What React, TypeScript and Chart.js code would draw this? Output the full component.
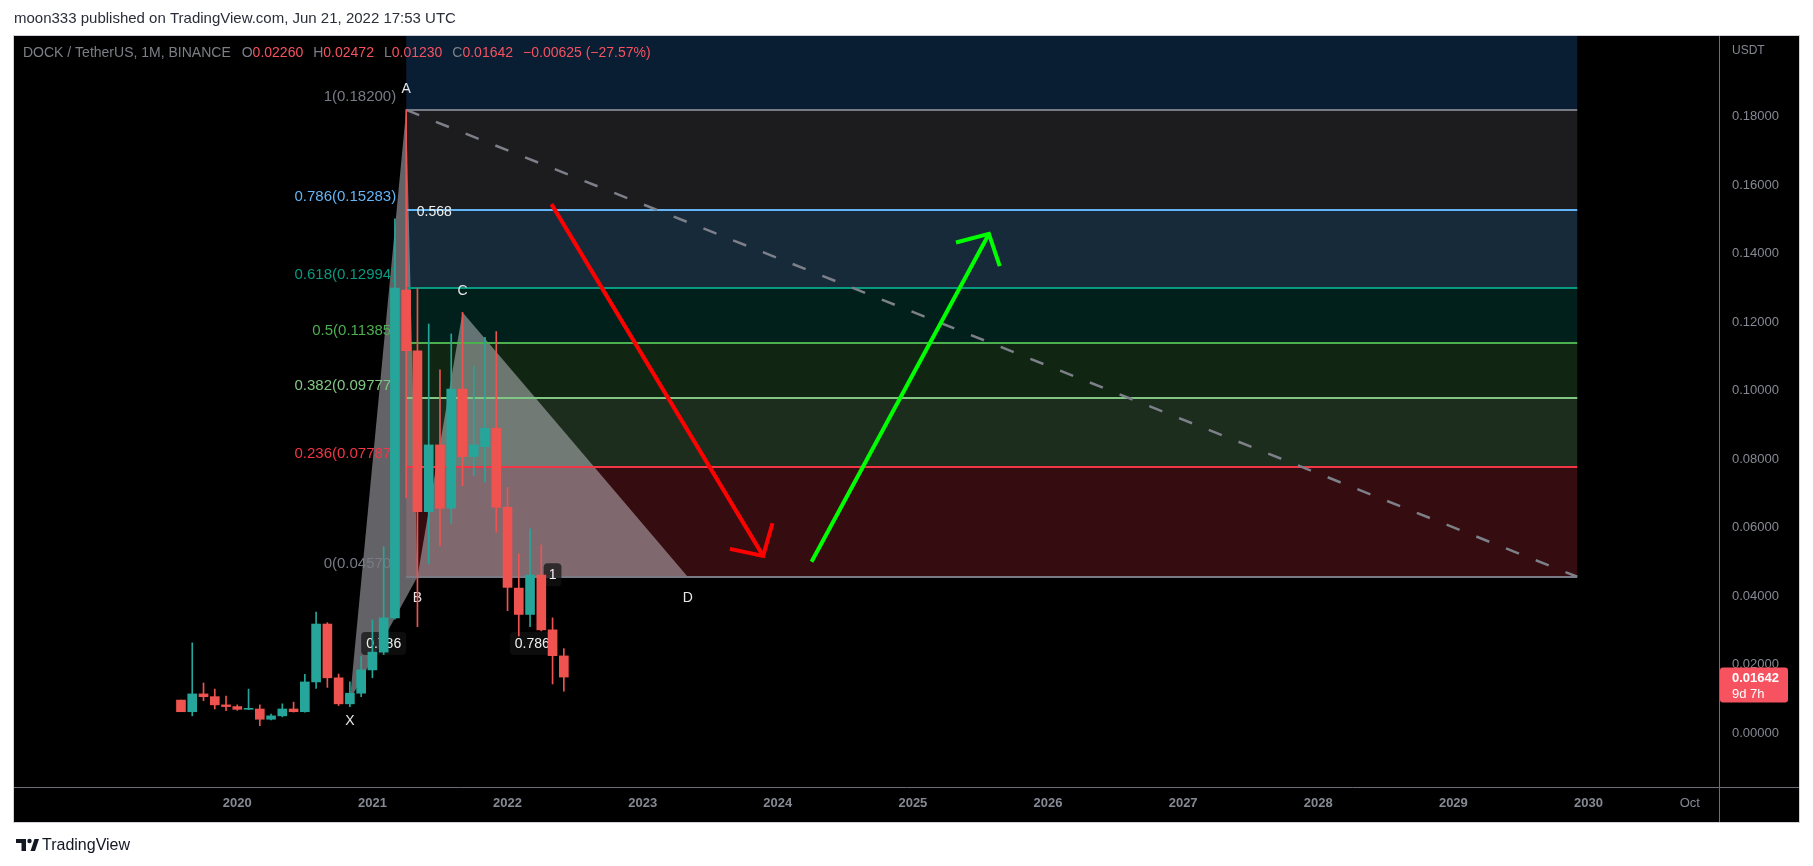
import React, { useEffect, useRef } from "react";
import { Chart, registerables } from "chart.js";

Chart.register(...registerables);

const FONT = "'Liberation Sans', Arial, sans-serif";
const CANVAS_W = 1813;
const CANVAS_H = 866;

// ---------------- data ----------------
const candleMonths = [
  "2019-08", "2019-09", "2019-10", "2019-11", "2019-12",
  "2020-01", "2020-02", "2020-03", "2020-04", "2020-05", "2020-06",
  "2020-07", "2020-08", "2020-09", "2020-10", "2020-11", "2020-12",
  "2021-01", "2021-02", "2021-03", "2021-04", "2021-05", "2021-06",
  "2021-07", "2021-08", "2021-09", "2021-10", "2021-11", "2021-12",
  "2022-01", "2022-02", "2022-03", "2022-04", "2022-05", "2022-06",
];
const opens = [
  0.0097, 0.0063, 0.0115, 0.0107, 0.0083,
  0.0078, 0.007, 0.0071, 0.0041, 0.0051, 0.0071,
  0.0063, 0.015, 0.0319, 0.0162, 0.0086, 0.0117,
  0.0185, 0.0237, 0.0337, 0.1294, 0.1117, 0.0647,
  0.0842, 0.0657, 0.1005, 0.0808, 0.0837, 0.0891,
  0.066, 0.0424, 0.0347, 0.0462, 0.0302, 0.0226,
];
const highs = [
  0.0097, 0.0264, 0.0147, 0.0129, 0.0109,
  0.0083, 0.0129, 0.0083, 0.0056, 0.0086, 0.0091,
  0.0172, 0.0354, 0.0323, 0.0173, 0.015, 0.0224,
  0.0331, 0.0545, 0.1502, 0.182, 0.13, 0.1195,
  0.1061, 0.1166, 0.1229, 0.1072, 0.1156, 0.1173,
  0.0718, 0.0524, 0.0597, 0.055, 0.0337, 0.02472,
];
const lows = [
  0.0063, 0.0051, 0.0095, 0.0071, 0.0066,
  0.0067, 0.0069, 0.0022, 0.0039, 0.0048, 0.0062,
  0.0062, 0.0131, 0.0134, 0.0081, 0.0078, 0.0107,
  0.0162, 0.023, 0.0333, 0.0688, 0.0311, 0.0496,
  0.0548, 0.0613, 0.0723, 0.0752, 0.0733, 0.0587,
  0.0358, 0.0284, 0.0311, 0.0299, 0.0144, 0.0123,
];
const closes = [
  0.0063, 0.0115, 0.0107, 0.0083, 0.0078,
  0.007, 0.0071, 0.0041, 0.0051, 0.0071, 0.0063,
  0.015, 0.0319, 0.0162, 0.0086, 0.0117, 0.0185,
  0.0237, 0.0337, 0.13, 0.1117, 0.0647, 0.0842,
  0.0657, 0.1005, 0.0808, 0.0842, 0.0891, 0.066,
  0.0426, 0.0347, 0.0462, 0.0302, 0.02267, 0.01642,
];

const xTickMonths = [
  "2020-01", "2021-01", "2022-01", "2023-01", "2024-01", "2025-01",
  "2026-01", "2027-01", "2028-01", "2029-01", "2030-01", "2030-10",
];
const xTickLabels = [
  "2020", "2021", "2022", "2023", "2024", "2025",
  "2026", "2027", "2028", "2029", "2030", "Oct",
];
const yTickValues = [0, 0.02, 0.04, 0.06, 0.08, 0.1, 0.12, 0.14, 0.16, 0.18];

// Fibonacci retracement
const fibRatios = [0, 0.236, 0.382, 0.5, 0.618, 0.786, 1];
const fibPrices = [0.0457, 0.07787, 0.09777, 0.11385, 0.12994, 0.15283, 0.182];
const fibStartMonth = "2021-04";
const fibEndMonth = "2029-12";

// XABCD pattern
const patternNames = ["X", "A", "B", "C", "D"];
const patternMonths = ["2020-11", "2021-04", "2021-05", "2021-09", "2023-05"];
const patternPrices = [0.0097, 0.182, 0.0457, 0.1229, 0.0457];
const ratioTexts = ["0.786", "0.568", "1", "0.786"];
const ratioFrom = [0, 1, 2, 0];
const ratioTo = [2, 3, 4, 4];

// hand-drawn arrows (month index since Jan 2019, price)
const redArrowMonths = [39.9, 58.7];
const redArrowPrices = [0.1545, 0.0518];
const greenArrowMonths = [63.0, 78.75];
const greenArrowPrices = [0.0501, 0.1458];

const symbolText = "DOCK / TetherUS, 1M, BINANCE";
const publishText = "moon333 published on TradingView.com, Jun 21, 2022 17:53 UTC";
const countdownText = "9d 7h";

// ---------------- styles ----------------
const UP = "#26a69a";
const DOWN = "#ef5350";
const AXIS_TEXT = "#868993";
const fibLineColors = ["#787b86", "#f23645", "#81c784", "#4caf50", "#089981", "#64b5f6", "#787b86"];
const fibBandFills = [
  "rgba(242,54,69,0.22)",
  "rgba(129,199,132,0.22)",
  "rgba(76,175,80,0.22)",
  "rgba(8,153,129,0.21)",
  "rgba(100,181,246,0.23)",
  "rgba(120,123,134,0.23)",
];
const fibExtFill = "rgba(41,130,230,0.22)";
const ratioBoxed = [true, false, true, true];
const ratioT = [0.5, 0.5, 0.5, 0.54];
const ratioDy = [5, 0, -2, 10];

const monthIndex = (s: string) => {
  const [y, m] = s.split("-").map(Number);
  return (y - 2019) * 12 + (m - 1);
};

const X_MIN = -7.83;
const X_MAX = 143.59;
const Y_MIN = -0.01568;
const Y_MAX = 0.20359;

const fmtSigned = (v: number, d: number) => (v < 0 ? "\u2212" : "+") + Math.abs(v).toFixed(d);

function roundRectPath(ctx: CanvasRenderingContext2D, x: number, y: number, w: number, h: number, r: number) {
  ctx.beginPath();
  ctx.moveTo(x + r, y);
  ctx.lineTo(x + w - r, y);
  ctx.arcTo(x + w, y, x + w, y + r, r);
  ctx.lineTo(x + w, y + h - r);
  ctx.arcTo(x + w, y + h, x + w - r, y + h, r);
  ctx.lineTo(x + r, y + h);
  ctx.arcTo(x, y + h, x, y + h - r, r);
  ctx.lineTo(x, y + r);
  ctx.arcTo(x, y, x + r, y, r);
  ctx.closePath();
}

function drawArrow(ctx: CanvasRenderingContext2D, x1: number, y1: number, x2: number, y2: number, color: string) {
  const back = Math.atan2(y1 - y2, x1 - x2);
  const a = (47 * Math.PI) / 180;
  const len = 34;
  ctx.save();
  ctx.strokeStyle = color;
  ctx.lineWidth = 4;
  ctx.lineCap = "butt";
  ctx.lineJoin = "miter";
  ctx.beginPath();
  ctx.moveTo(x1, y1);
  ctx.lineTo(x2, y2);
  ctx.stroke();
  ctx.beginPath();
  ctx.moveTo(x2 + len * Math.cos(back + a), y2 + len * Math.sin(back + a));
  ctx.lineTo(x2, y2);
  ctx.lineTo(x2 + len * Math.cos(back - a), y2 + len * Math.sin(back - a));
  ctx.stroke();
  ctx.restore();
}

const decorPlugin = {
  id: "tvDecor",
  beforeDraw(chart: any) {
    const { ctx, chartArea: a, scales } = chart;
    const fr = scales.y.right;
    const fb = scales.x.bottom;
    ctx.save();
    ctx.fillStyle = "#ffffff";
    ctx.fillRect(0, 0, chart.width, chart.height);
    ctx.fillStyle = "#000000";
    ctx.fillRect(a.left, a.top, fr - a.left, fb - a.top);

    ctx.font = `15px ${FONT}`;
    ctx.fillStyle = "#2a2e39";
    ctx.textAlign = "left";
    ctx.textBaseline = "middle";
    ctx.fillText(publishText, a.left, a.top - 17.5);

    // TradingView logo
    const lx = a.left + 2;
    const ly = fb + 23;
    ctx.fillStyle = "#131722";
    ctx.fillRect(lx, ly - 6, 10, 4);
    ctx.fillRect(lx + 5.5, ly - 6, 4.5, 12);
    ctx.beginPath();
    ctx.arc(lx + 13.5, ly - 4, 2.2, 0, Math.PI * 2);
    ctx.fill();
    ctx.beginPath();
    ctx.moveTo(lx + 14.5, ly + 6);
    ctx.lineTo(lx + 19, ly + 6);
    ctx.lineTo(lx + 23, ly - 6);
    ctx.lineTo(lx + 18.5, ly - 6);
    ctx.closePath();
    ctx.fill();
    ctx.font = `16px ${FONT}`;
    ctx.fillText("TradingView", lx + 26, ly + 0.5);
    ctx.restore();
  },
  beforeDatasetsDraw(chart: any) {
    const { ctx, chartArea: a, scales } = chart;
    const px = (m: number) => scales.x.getPixelForValue(m);
    const py = (v: number) => scales.y.getPixelForValue(v);
    ctx.save();
    ctx.beginPath();
    ctx.rect(a.left, a.top, a.right - a.left, a.bottom - a.top);
    ctx.clip();

    const xl = px(monthIndex(fibStartMonth));
    const xr = px(monthIndex(fibEndMonth));
    // bands
    const topY = py(fibPrices[fibPrices.length - 1]);
    ctx.fillStyle = fibExtFill;
    ctx.fillRect(xl, a.top, xr - xl, topY - a.top);
    for (let i = 0; i < fibPrices.length - 1; i++) {
      const y0 = py(fibPrices[i]);
      const y1 = py(fibPrices[i + 1]);
      ctx.fillStyle = fibBandFills[i];
      ctx.fillRect(xl, y1, xr - xl, y0 - y1);
    }

    // pattern triangles
    const pts = patternMonths.map((m, i) => [px(monthIndex(m)), py(patternPrices[i])]);
    ctx.fillStyle = "rgba(215,215,225,0.46)";
    for (const tri of [[0, 1, 2], [2, 3, 4]]) {
      ctx.beginPath();
      ctx.moveTo(pts[tri[0]][0], pts[tri[0]][1]);
      ctx.lineTo(pts[tri[1]][0], pts[tri[1]][1]);
      ctx.lineTo(pts[tri[2]][0], pts[tri[2]][1]);
      ctx.closePath();
      ctx.fill();
    }

    // fib lines
    ctx.lineWidth = 2;
    for (let i = 0; i < fibPrices.length; i++) {
      const y = Math.round(py(fibPrices[i]));
      ctx.strokeStyle = fibLineColors[i];
      ctx.beginPath();
      ctx.moveTo(xl, y);
      ctx.lineTo(xr, y);
      ctx.stroke();
    }

    // fib trend line (dashed)
    ctx.save();
    ctx.strokeStyle = "#7d8089";
    ctx.lineWidth = 2.5;
    ctx.setLineDash([14, 18]);
    ctx.beginPath();
    ctx.moveTo(xl, py(fibPrices[fibPrices.length - 1]));
    ctx.lineTo(xr, py(fibPrices[0]));
    ctx.stroke();
    ctx.restore();

    // fib labels
    ctx.font = `15px ${FONT}`;
    ctx.textAlign = "right";
    ctx.textBaseline = "middle";
    for (let i = 0; i < fibPrices.length; i++) {
      ctx.fillStyle = fibLineColors[i];
      ctx.fillText(`${fibRatios[i]}(${fibPrices[i].toFixed(5)})`, xl - 10, py(fibPrices[i]) - 13);
    }

    // ratio labels
    ctx.font = `14px ${FONT}`;
    ctx.textAlign = "center";
    for (let i = 0; i < ratioTexts.length; i++) {
      const p0 = pts[ratioFrom[i]];
      const p1 = pts[ratioTo[i]];
      const t = ratioT[i];
      const cx = p0[0] + (p1[0] - p0[0]) * t;
      const cy = p0[1] + (p1[1] - p0[1]) * t + ratioDy[i];
      const w = ctx.measureText(ratioTexts[i]).width + 10;
      if (ratioBoxed[i]) {
        ctx.fillStyle = "rgba(18,18,20,0.72)";
        roundRectPath(ctx, cx - w / 2, cy - 11.5, w, 23, 4);
        ctx.fill();
      }
      ctx.fillStyle = "#f0f0f0";
      ctx.fillText(ratioTexts[i], cx, cy + 0.5);
    }

    // pattern point letters
    ctx.fillStyle = "#e6e6e6";
    for (let i = 0; i < patternNames.length; i++) {
      const prev = i > 0 ? patternPrices[i - 1] : -Infinity;
      const next = i < patternPrices.length - 1 ? patternPrices[i + 1] : -Infinity;
      const above = patternPrices[i] > prev && patternPrices[i] > next;
      ctx.fillText(patternNames[i], pts[i][0], pts[i][1] + (above ? -21 : 21));
    }
    ctx.restore();
  },
  afterDatasetsDraw(chart: any) {
    const { ctx, chartArea: a, scales } = chart;
    const px = (m: number) => scales.x.getPixelForValue(m);
    const py = (v: number) => scales.y.getPixelForValue(v);
    ctx.save();
    ctx.beginPath();
    ctx.rect(a.left, a.top, a.right - a.left, a.bottom - a.top);
    ctx.clip();
    drawArrow(ctx, px(redArrowMonths[0]), py(redArrowPrices[0]), px(redArrowMonths[1]), py(redArrowPrices[1]), "#ff0000");
    drawArrow(ctx, px(greenArrowMonths[0]), py(greenArrowPrices[0]), px(greenArrowMonths[1]), py(greenArrowPrices[1]), "#00ff00");

    // symbol header
    const last = closes.length - 1;
    const gray = "#7c7f87";
    const red = "#f7525f";
    const chg = closes[last] - closes[last - 1];
    const pct = (chg / closes[last - 1]) * 100;
    const segs: [string, string, number][] = [
      [symbolText, gray, 11],
      ["O", gray, 0],
      [opens[last].toFixed(5), red, 10],
      ["H", gray, 0],
      [highs[last].toFixed(5), red, 10],
      ["L", gray, 0],
      [lows[last].toFixed(5), red, 10],
      ["C", gray, 0],
      [closes[last].toFixed(5), red, 10],
      [`${fmtSigned(chg, 5)} (${fmtSigned(pct, 2)}%)`, red, 0],
    ];
    ctx.font = `14px ${FONT}`;
    ctx.textAlign = "left";
    ctx.textBaseline = "middle";
    let hx = a.left + 9;
    for (const [t, c, g] of segs) {
      ctx.fillStyle = c;
      ctx.fillText(t, hx, a.top + 17);
      hx += ctx.measureText(t).width + g;
    }
    ctx.restore();
  },
  afterDraw(chart: any) {
    const { ctx, chartArea: a, scales } = chart;
    const fr = scales.y.right;
    const fb = scales.x.bottom;
    const yl = scales.y.left;
    const xt = scales.x.top;
    ctx.save();
    // separators
    ctx.strokeStyle = "#6b6e78";
    ctx.lineWidth = 1;
    ctx.beginPath();
    ctx.moveTo(Math.round(yl) + 0.5, a.top);
    ctx.lineTo(Math.round(yl) + 0.5, fb);
    ctx.moveTo(a.left, Math.round(xt) + 0.5);
    ctx.lineTo(fr, Math.round(xt) + 0.5);
    ctx.stroke();
    // outer frame
    ctx.strokeStyle = "#cfd2d9";
    ctx.strokeRect(a.left - 0.5, a.top - 0.5, fr - a.left + 1, fb - a.top + 1);

    // currency
    ctx.font = `12px ${FONT}`;
    ctx.fillStyle = AXIS_TEXT;
    ctx.textAlign = "left";
    ctx.textBaseline = "middle";
    ctx.fillText("USDT", yl + 13, a.top + 15);

    // last price label
    const last = closes.length - 1;
    const yp = scales.y.getPixelForValue(closes[last]);
    ctx.fillStyle = "#f7525f";
    roundRectPath(ctx, yl + 1, yp - 9.5, 68, 35, 3);
    ctx.fill();
    ctx.fillStyle = "#ffffff";
    ctx.font = `bold 13px ${FONT}`;
    ctx.fillText(closes[last].toFixed(5), yl + 13, yp + 1);
    ctx.font = `13px ${FONT}`;
    ctx.fillText(countdownText, yl + 13, yp + 17);
    ctx.restore();
  },
};

export default function App() {
  const ref = useRef<HTMLCanvasElement | null>(null);

  useEffect(() => {
    const canvas = ref.current;
    if (!canvas) return;
    Chart.defaults.font.family = FONT;
    const colors = opens.map((o, i) => (closes[i] >= o ? UP : DOWN));
    const xs = candleMonths.map(monthIndex);

    const chart = new Chart(canvas, {
      type: "bar",
      data: {
        datasets: [
          {
            label: "wicks",
            data: xs.map((x, i) => ({ x, y: [lows[i], highs[i]] })) as any,
            backgroundColor: colors,
            barThickness: 1,
            grouped: false,
            borderWidth: 0,
            order: 2,
          } as any,
          {
            label: "bodies",
            data: xs.map((x, i) => ({ x, y: [opens[i], closes[i]] })) as any,
            backgroundColor: colors,
            barThickness: 9,
            minBarLength: 1,
            grouped: false,
            borderWidth: 0,
            order: 1,
          } as any,
        ],
      },
      options: {
        animation: false,
        responsive: false,
        devicePixelRatio: 1,
        events: [],
        layout: { padding: { left: 14, top: 36, right: 14, bottom: 44 } },
        plugins: {
          legend: { display: false },
          tooltip: { enabled: false },
          title: { display: false },
        },
        scales: {
          x: {
            type: "linear",
            min: X_MIN,
            max: X_MAX,
            offset: false,
            grid: { display: false, drawTicks: false },
            border: { display: false },
            afterBuildTicks: (s: any) => {
              s.ticks = xTickMonths.map((m) => ({ value: monthIndex(m) }));
            },
            afterFit: (s: any) => {
              s.height = 35;
            },
            ticks: {
              autoSkip: false,
              maxRotation: 0,
              minRotation: 0,
              padding: 9,
              color: AXIS_TEXT,
              font: (c: any) => ({
                family: FONT,
                size: 13,
                weight: c.index === xTickLabels.length - 1 ? "normal" : "bold",
              }),
              callback: (_v: any, i: number) => xTickLabels[i],
            },
          } as any,
          y: {
            type: "linear",
            position: "right",
            min: Y_MIN,
            max: Y_MAX,
            grid: { display: false, drawTicks: false },
            border: { display: false },
            afterBuildTicks: (s: any) => {
              s.ticks = yTickValues.map((v) => ({ value: v }));
            },
            afterFit: (s: any) => {
              s.width = 80;
            },
            ticks: {
              padding: 13,
              color: AXIS_TEXT,
              font: { family: FONT, size: 13 },
              callback: (v: any) => Number(v).toFixed(5),
            },
          } as any,
        },
      },
      plugins: [decorPlugin as any],
    });
    return () => chart.destroy();
  }, []);

  return (
    <canvas
      ref={ref}
      width={CANVAS_W}
      height={CANVAS_H}
      style={{ position: "fixed", left: 0, top: 0, width: CANVAS_W, height: CANVAS_H, display: "block" }}
    />
  );
}
